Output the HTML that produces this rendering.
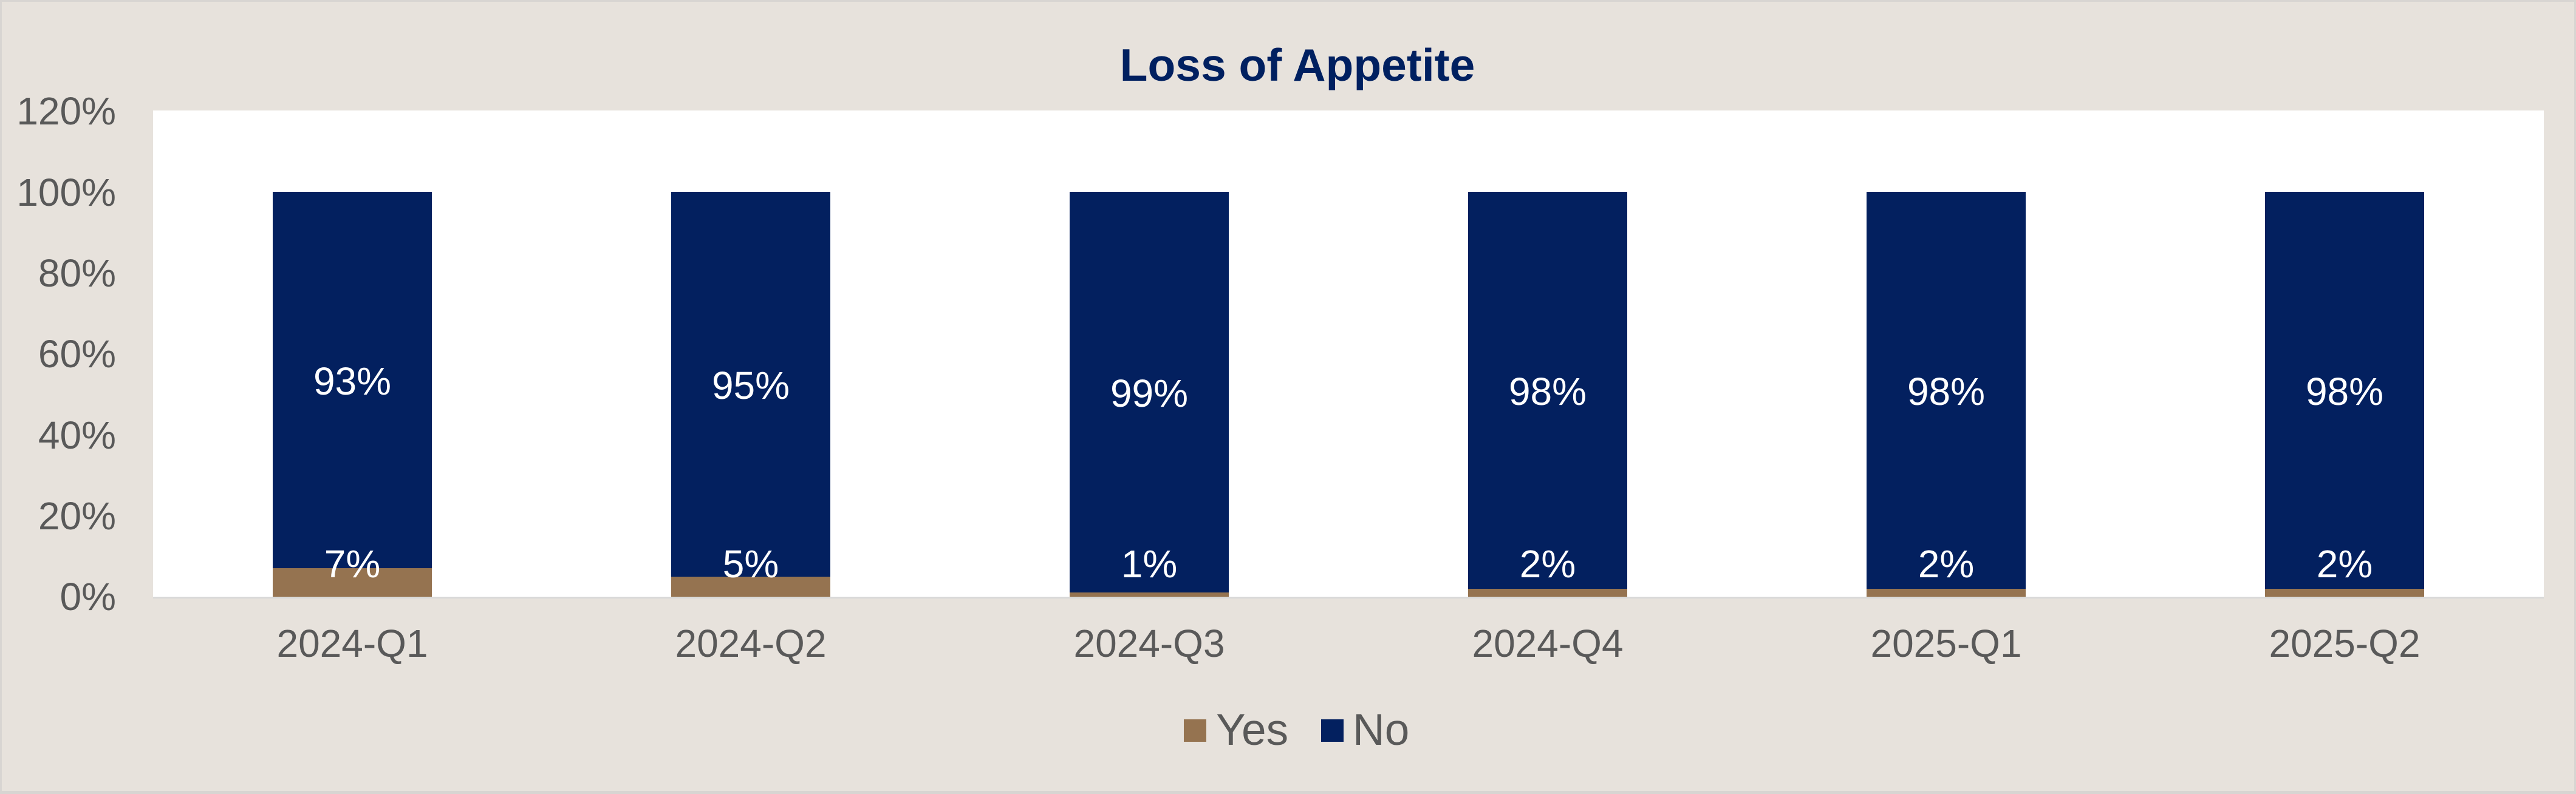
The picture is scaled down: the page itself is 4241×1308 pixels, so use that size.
<!DOCTYPE html>
<html>
<head>
<meta charset="utf-8">
<style>
  html, body { margin: 0; padding: 0; background: #E7E2DC; }
  body { width: 4241px; height: 1308px; overflow: hidden; }
  svg { display: block; }
  text { font-family: "Liberation Sans", Arial, sans-serif; }
</style>
</head>
<body>
<svg width="4241" height="1308" viewBox="0 0 4241 1308" xmlns="http://www.w3.org/2000/svg">
  <!-- background + border -->
  <rect x="0" y="0" width="4241" height="1308" fill="#D8D5D2"/>
  <rect x="3" y="3" width="4235" height="1300" fill="#E7E2DC"/>

  <!-- plot area -->
  <rect x="252" y="182" width="3936" height="801" fill="#FFFFFF"/>

  <!-- title -->
  <text x="2136" y="133" text-anchor="middle" font-size="75" font-weight="bold" fill="#002060">Loss of Appetite</text>

  <!-- y-axis labels -->
  <g font-size="64" fill="#595959" text-anchor="end">
    <text x="191" y="1005">0%</text>
    <text x="191" y="872">20%</text>
    <text x="191" y="739">40%</text>
    <text x="191" y="605">60%</text>
    <text x="191" y="472">80%</text>
    <text x="191" y="339">100%</text>
    <text x="191" y="205">120%</text>
  </g>

  <!-- bars: No (navy) stacked above Yes (brown) -->
  <g>
    <!-- 2024-Q1: 7 / 93 -->
    <rect x="449" y="316" width="262" height="620" fill="#03205F"/>
    <rect x="449" y="936" width="262" height="47" fill="#957350"/>
    <!-- 2024-Q2: 5 / 95 -->
    <rect x="1105" y="316" width="262" height="634" fill="#03205F"/>
    <rect x="1105" y="950" width="262" height="33" fill="#957350"/>
    <!-- 2024-Q3: 1 / 99 -->
    <rect x="1761" y="316" width="262" height="660" fill="#03205F"/>
    <rect x="1761" y="976" width="262" height="7" fill="#957350"/>
    <!-- 2024-Q4: 2 / 98 -->
    <rect x="2417" y="316" width="262" height="654" fill="#03205F"/>
    <rect x="2417" y="970" width="262" height="13" fill="#957350"/>
    <!-- 2025-Q1: 2 / 98 -->
    <rect x="3073" y="316" width="262" height="654" fill="#03205F"/>
    <rect x="3073" y="970" width="262" height="13" fill="#957350"/>
    <!-- 2025-Q2: 2 / 98 -->
    <rect x="3729" y="316" width="262" height="654" fill="#03205F"/>
    <rect x="3729" y="970" width="262" height="13" fill="#957350"/>
  </g>

  <!-- x axis line -->
  <rect x="252" y="983" width="3936" height="3" fill="#D9D9D9"/>

  <!-- data labels -->
  <g font-size="64" fill="#FFFFFF" text-anchor="middle">
    <text x="580" y="650">93%</text>
    <text x="1236" y="657">95%</text>
    <text x="1892" y="670">99%</text>
    <text x="2548" y="667">98%</text>
    <text x="3204" y="667">98%</text>
    <text x="3860" y="667">98%</text>

    <text x="580" y="951">7%</text>
    <text x="1236" y="951">5%</text>
    <text x="1892" y="951">1%</text>
    <text x="2548" y="951">2%</text>
    <text x="3204" y="951">2%</text>
    <text x="3860" y="951">2%</text>
  </g>

  <!-- x-axis category labels -->
  <g font-size="64" fill="#595959" text-anchor="middle">
    <text x="580" y="1082">2024-Q1</text>
    <text x="1236" y="1082">2024-Q2</text>
    <text x="1892" y="1082">2024-Q3</text>
    <text x="2548" y="1082">2024-Q4</text>
    <text x="3204" y="1082">2025-Q1</text>
    <text x="3860" y="1082">2025-Q2</text>
  </g>

  <!-- legend -->
  <rect x="1949" y="1185" width="37" height="37" fill="#957350"/>
  <text x="2002" y="1227" font-size="73" fill="#595959">Yes</text>
  <rect x="2175" y="1185" width="37" height="37" fill="#03205F"/>
  <text x="2227" y="1227" font-size="73" fill="#595959">No</text>
</svg>
</body>
</html>
